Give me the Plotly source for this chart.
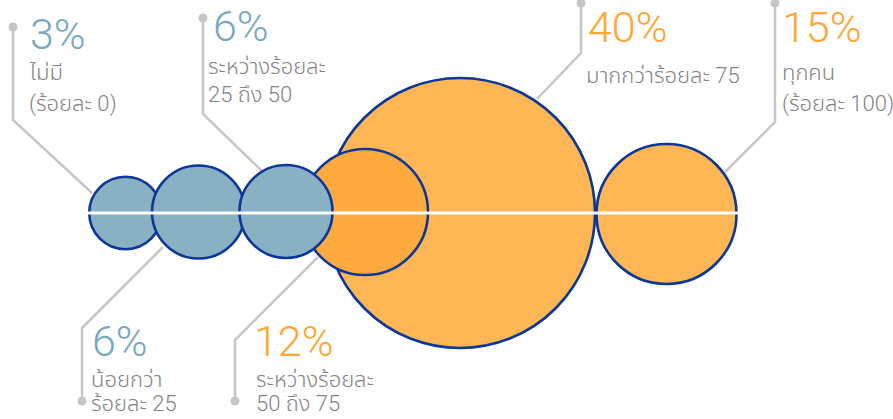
import plotly.graph_objects as go

# ---- data ----
categories = ["ไม่มี (ร้อยละ 0)", "น้อยกว่าร้อยละ 25", "ระหว่างร้อยละ 25 ถึง 50",
              "ระหว่างร้อยละ 50 ถึง 75", "มากกว่าร้อยละ 75", "ทุกคน (ร้อยละ 100)"]
values = [3, 6, 6, 12, 40, 15]
label_lines = [["ไม่มี", "(ร้อยละ 0)"], ["น้อยกว่า", "ร้อยละ 25"], ["ระหว่างร้อยละ", "25 ถึง 50"],
               ["ระหว่างร้อยละ", "50 ถึง 75"], ["มากกว่าร้อยละ 75"], ["ทุกคน", "(ร้อยละ 100)"]]

# ---- layout / style (pixel space) ----
W, H = 893, 419
cx = [125.5, 198.5, 286, 365, 460, 666.5]
cy = [213, 212, 211.5, 212, 213, 214]
diam = [72.5, 93, 93, 126, 270, 140]
fill = ["#89B0C3", "#89B0C3", "#89B0C3", "#FFAA3F", "#FFB655", "#FFB655"]
txt_col = ["#78A8BF", "#78A8BF", "#78A8BF", "#FFA633", "#FFA633", "#FFA633"]
draw_order = [4, 5, 3, 0, 1, 2]

fig = go.Figure()

# leader lines (polylines) and dots
leaders = [
    [(13, 27), (13, 120), (92, 193)],
    [(82, 401), (82, 328), (163, 247)],
    [(203, 18), (203, 114), (262, 171)],
    [(235, 401), (235, 340), (318, 257)],
    [(581, 3), (581, 53), (537, 99)],
    [(775, 3), (775, 122), (725, 172)],
]
for pts in leaders:
    fig.add_trace(go.Scatter(x=[p[0] for p in pts], y=[p[1] for p in pts], mode="lines",
                             line=dict(color="#C6C6C6", width=2.5), showlegend=False,
                             hoverinfo="skip", cliponaxis=False))
fig.add_trace(go.Scatter(x=[pts[0][0] for pts in leaders], y=[pts[0][1] for pts in leaders],
                         mode="markers", marker=dict(size=9, color="#C6C6C6"),
                         showlegend=False, hoverinfo="skip", cliponaxis=False))

# bubbles
fig.add_trace(go.Scatter(
    x=[cx[i] for i in draw_order], y=[cy[i] for i in draw_order],
    mode="markers",
    marker=dict(size=[diam[i] for i in draw_order], sizemode="diameter",
                color=[fill[i] for i in draw_order], opacity=1,
                line=dict(color="#0A3798", width=2.6)),
    hovertext=[f"{categories[i]}: {values[i]}%" for i in draw_order], hoverinfo="text",
    showlegend=False, cliponaxis=False))

# white horizontal line
fig.add_trace(go.Scatter(x=[88, 738], y=[213, 213], mode="lines",
                         line=dict(color="white", width=3), showlegend=False, hoverinfo="skip"))

# text positions
pct_pos = [(28, 34), (90, 341), (211, 26), (252, 341), (586, 27), (780, 27)]
lab_pos = [[(27, 72), (27, 104)], [(89, 379), (89, 403)], [(206, 66), (206, 94)],
           [(254, 379), (254, 403)], [(584, 75)], [(780, 72), (780, 104)]]

thai_family = "Roboto, 'Noto Sans Thai', 'Noto Sans Thai UI', Loma, Garuda, 'Noto Sans', sans-serif"
ann = []
for i in range(len(values)):
    x, y = pct_pos[i]
    ann.append(dict(x=x, y=y, xref="x", yref="y", text=f"{values[i]}%", showarrow=False,
                    xanchor="left", yanchor="middle",
                    font=dict(family="Roboto, Noto Sans", size=43, color=txt_col[i], weight=300)))
    for (lx, ly), t in zip(lab_pos[i], label_lines[i]):
        ann.append(dict(x=lx, y=ly, xref="x", yref="y", text=t, showarrow=False,
                        xanchor="left", yanchor="middle",
                        font=dict(family=thai_family, size=22, color="#848484", weight=300)))

fig.update_layout(
    width=W, height=H, margin=dict(l=0, r=0, t=0, b=0),
    paper_bgcolor="white", plot_bgcolor="white",
    xaxis=dict(range=[0, W], visible=False, fixedrange=True),
    yaxis=dict(range=[H, 0], visible=False, fixedrange=True),
    annotations=ann, hovermode="closest",
)
fig.write_html("out.html")
